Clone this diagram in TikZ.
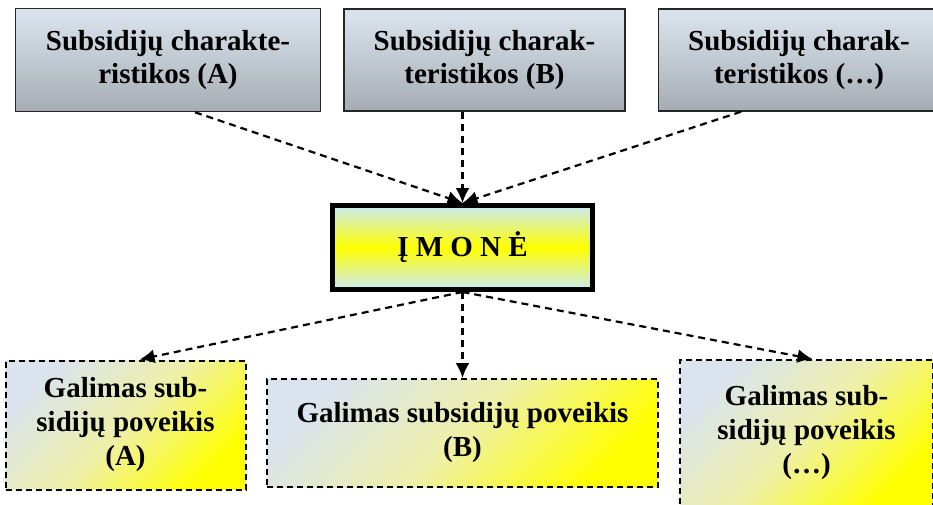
\documentclass[tikz,border=0pt]{standalone}
\usepackage{fontspec}
\setmainfont{Liberation Serif}
\definecolor{chartop}{HTML}{DCE5EF}
\definecolor{charbot}{HTML}{A5ACB4}
\definecolor{firmblue}{HTML}{CBEAF4}
\definecolor{firmyellow}{HTML}{FFFF00}
\definecolor{efftop}{HTML}{DAE3EE}
\definecolor{effmid}{HTML}{EEF0A8}
\usetikzlibrary{arrows.meta, positioning, calc}
\tikzset{
	charbox/.style={draw=black!85, line width=1.5pt, top color=chartop, bottom color=charbot,
		align=center, font=\bfseries\fontsize{29}{33}\selectfont, inner sep=2pt},
	firmbox/.style={draw=black, line width=5pt, top color=firmblue, bottom color=firmblue,
		middle color=firmyellow, font=\bfseries\fontsize{29}{33}\selectfont,
		minimum width=260pt, minimum height=84pt},
	effbox/.style={draw=black, line width=2pt, dash pattern=on 6pt off 4pt,
		top color=efftop, bottom color=firmyellow, middle color=effmid, shading angle=45,
		align=center, font=\bfseries\fontsize{29}{34}\selectfont, inner sep=2pt},
	darr/.style={-{Latex[length=15pt, width=14pt]}, line width=2.2pt,
		dash pattern=on 7pt off 5pt}
}
\begin{document}
\begin{tikzpicture}[x=1pt, y=-1pt]
	\useasboundingbox (0,0) rectangle (933,504);
	\clip (0,0) rectangle (933,504);
	% upper row
	\node[charbox, minimum width=305pt, minimum height=103pt] (charA) at (168,60) {Subsidijų charakte-\\ristikos (A)};
	\node[charbox, minimum width=281pt, minimum height=102pt, right=22pt of charA] (charB) {Subsidijų charak-\\teristikos (B)};
	\node[charbox, minimum width=281pt, minimum height=102pt, right=32pt of charB] (charC) {Subsidijų charak-\\teristikos (…)};
	% firm
	\node[firmbox] (firm) at (462.5,247.5) {Į M O N Ė};
	% lower row
	\node[effbox, minimum width=240pt, minimum height=129pt] (effA) at (125.5,425) {Galimas sub-\\sidijų poveikis\\(A)};
	\node[effbox, minimum width=391pt, minimum height=108pt, below=86pt of firm] (effB) {Galimas subsidijų poveikis\\(B)};
	\node[effbox, minimum width=253pt, minimum height=146pt] (effC) at (806.5,433) {Galimas sub-\\sidijų poveikis\\(…)};
	% connectors
	\draw[darr] ([xshift=27pt]charA.south) -- (firm.north);
	\draw[darr] (charB.south -| firm.north) -- (firm.north);
	\draw[darr] ([xshift=-58pt]charC.south) -- (firm.north);
	\draw[darr] (firm.south) -- ([xshift=14pt]effA.north);
	\draw[darr] (firm.south) -- (effB.north);
	\draw[darr] (firm.south) -- ([xshift=6pt]effC.north);
\end{tikzpicture}
\end{document}
